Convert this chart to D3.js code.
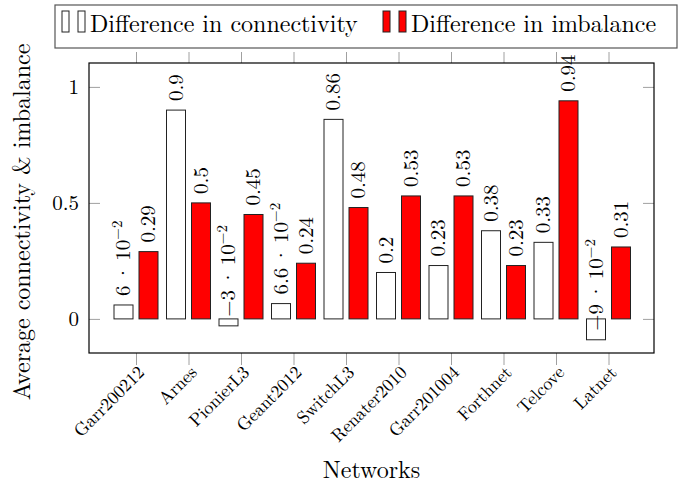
<!DOCTYPE html>
<html>
<head>
<meta charset="utf-8">
<script src="https://cdn.jsdelivr.net/npm/d3@7"></script>
</head>
<body style="margin:0;background:#fff">
<svg id="chart" width="678" height="485"></svg>
<script>
const networks = ['Garr200212', 'Arnes', 'PionierL3', 'Geant2012', 'SwitchL3',
  'Renater2010', 'Garr201004', 'Forthnet', 'Telcove', 'Latnet'];
const connectivity = [0.06, 0.9, -0.03, 0.066, 0.86, 0.2, 0.23, 0.38, 0.33, -0.09];
const imbalance = [0.29, 0.5, 0.45, 0.24, 0.48, 0.53, 0.53, 0.23, 0.94, 0.31];
const yTicks = [0, 0.5, 1];
const seriesNames = ['Difference in connectivity', 'Difference in imbalance'];
const seriesColors = ['#ffffff', '#ff0000'];

const LM = '"Latin Modern Roman"';

const svg = d3.select('#chart');
const frame = { left: 89, right: 654, top: 63, bottom: 353 };

//set a font on a text selection
const font = (sel, size) => sel
  .style('font-family', LM)
  .style('font-size', size + 'px');

//scales
const xScale = d3.scalePoint()
  .domain(networks)
  .range([136, 608.5]);

const yScale = d3.scaleLinear()
  .domain([-0.147, 1.103])
  .range([frame.bottom, frame.top]);

const barW = 19;
const offsets = [-12.5, 12.5];

//y ticks (inside, left and right), x ticks outside
const yAxisL = d3.axisLeft(yScale).tickValues(yTicks).tickSize(-11).tickPadding(10)
  .tickFormat(d => d);
const yAxisR = d3.axisRight(yScale).tickValues(yTicks).tickSize(-11).tickFormat('');
const xAxisB = d3.axisBottom(xScale).tickSize(12).tickFormat('');
const xAxisT = d3.axisTop(xScale).tickSize(11).tickFormat('');

const gyl = svg.append('g').attr('transform', `translate(${frame.left},0)`).call(yAxisL);
const gyr = svg.append('g').attr('transform', `translate(${frame.right},0)`).call(yAxisR);
const gxb = svg.append('g').attr('transform', `translate(0,${frame.bottom})`).call(xAxisB);
const gxt = svg.append('g').attr('transform', `translate(0,${frame.top})`).call(xAxisT);
[gyl, gyr, gxb, gxt].forEach(g => {
  g.select('.domain').remove();
  g.selectAll('.tick line').attr('stroke', '#a0a0a0').attr('stroke-width', 1);
});
gyl.selectAll('.tick text')
  .attr('fill', '#000')
  .call(font, 21);

//bars
const series = [connectivity, imbalance];
series.forEach((vals, s) => {
  svg.append('g').selectAll('rect')
    .data(vals)
    .join('rect')
      .attr('x', (d, i) => xScale(networks[i]) + offsets[s] - barW / 2)
      .attr('y', d => yScale(Math.max(0, d)))
      .attr('width', barW)
      .attr('height', d => Math.abs(yScale(d) - yScale(0)))
      .attr('fill', seriesColors[s])
      .attr('stroke', '#222')
      .attr('stroke-width', 1);
});

//value labels
const labelText = (sel, v) => {
  if (Math.abs(v) < 0.1) {
    const m = +(v * 100).toFixed(1);
    sel.append('tspan').text((m < 0 ? '\u2212' + (-m) : m) + '\u2009\u00b7\u200910');
    sel.append('tspan').attr('dy', -8).style('font-size', '15px').text('\u22122');
  } else {
    sel.text(v);
  }
};
series.forEach((vals, s) => {
  vals.forEach((v, i) => {
    const x = xScale(networks[i]) + offsets[s];
    const y = yScale(v) - 9;
    svg.append('text')
      .attr('transform', `translate(${x},${y}) rotate(-90)`)
      .attr('dy', '0.33em')
      .call(font, 21)
      .call(labelText, v);
  });
});

//frame
svg.append('rect')
  .attr('x', frame.left).attr('y', frame.top)
  .attr('width', frame.right - frame.left)
  .attr('height', frame.bottom - frame.top)
  .attr('fill', 'none').attr('stroke', '#000').attr('stroke-width', 1.2);

//x tick labels rotated 45
svg.append('g').selectAll('text')
  .data(networks)
  .join('text')
    .attr('transform', d => `translate(${xScale(d) + 5},${frame.bottom + 16}) rotate(-45)`)
    .attr('text-anchor', 'end')
    .attr('dy', '0.35em')
    .call(font, 18)
    .text(d => d);

//axis labels
svg.append('text')
  .attr('x', (frame.left + frame.right) / 2)
  .attr('y', 478)
  .attr('text-anchor', 'middle')
  .call(font, 24)
  .text('Networks');

svg.append('text')
  .attr('transform', `translate(30,222) rotate(-90)`)
  .attr('text-anchor', 'middle')
  .call(font, 24)
  .text('Average connectivity & imbalance');

//legend
const legend = svg.append('g');
legend.append('rect')
  .attr('x', 55).attr('y', 5)
  .attr('width', 622).attr('height', 43)
  .attr('fill', '#fff').attr('stroke', '#555').attr('stroke-width', 1.2);

const legendX = [62, 383];
seriesNames.forEach((name, s) => {
  [0, 16].forEach(dx => {
    legend.append('rect')
      .attr('x', legendX[s] + dx).attr('y', 11)
      .attr('width', 7).attr('height', 21)
      .attr('fill', seriesColors[s]).attr('stroke', '#222').attr('stroke-width', 1);
  });
  legend.append('text')
    .attr('x', legendX[s] + 28)
    .attr('y', 32)
    .call(font, 24)
    .text(name);
});
</script>
</body>
</html>
